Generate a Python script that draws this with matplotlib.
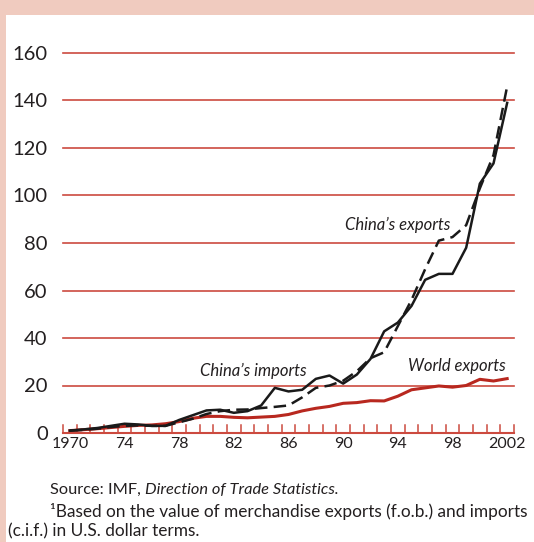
import matplotlib.pyplot as plt
import numpy as np

plt.rcParams['font.family'] = ['Lato', 'DejaVu Sans']

# data
years = list(range(1970, 2003))
china_exports = [1.0, 1.3, 1.8, 2.5, 3.0, 3.2, 3.0, 3.0, 4.5, 6.0,
                 8.0, 9.2, 9.8, 9.9, 10.5, 11.0, 11.6, 15.0, 19.0, 20.0,
                 22.0, 26.0, 31.5, 34.0, 45.0, 56.0, 69.0, 81.0, 82.5, 87.5,
                 103.0, 117.0, 146.0]
china_imports = [1.0, 1.5, 2.1, 3.0, 3.9, 3.6, 3.0, 3.0, 5.5, 7.5,
                 9.5, 9.8, 8.5, 9.2, 11.6, 19.0, 17.5, 18.2, 22.8, 24.2,
                 20.8, 24.6, 31.2, 42.8, 46.5, 53.5, 64.5, 67.0, 67.0, 78.0,
                 105.0, 113.5, 139.0]
world_exports = [1.0, 1.4, 1.8, 2.3, 2.8, 3.2, 3.4, 3.9, 4.8, 6.2,
                 7.0, 7.0, 6.6, 6.4, 6.7, 7.0, 7.8, 9.3, 10.4, 11.2,
                 12.5, 12.8, 13.6, 13.5, 15.5, 18.2, 19.0, 19.8, 19.3, 20.0,
                 22.6, 21.9, 22.9]
y_ticks = [0, 20, 40, 60, 80, 100, 120, 140, 160]
x_ticks = [1970, 1974, 1978, 1982, 1986, 1990, 1994, 1998, 2002]
x_labels = ['1970', '74', '78', '82', '86', '90', '94', '98', '2002']

grid_red = '#cc4a3f'
pink = '#f0cbbf'
ink = '#231f20'

fig = plt.figure(figsize=(5.34, 5.42), dpi=100)
fig.patch.set_facecolor('white')

# pink frame: top band and left strip
fig.add_artist(plt.Rectangle((0, 1 - 15 / 542), 1, 15 / 542, transform=fig.transFigure,
                             color=pink, lw=0))
fig.add_artist(plt.Rectangle((0, 0), 6 / 534, 1, transform=fig.transFigure,
                             color=pink, lw=0))

ax = fig.add_axes([63 / 534, 109 / 542, 451 / 534, 380 / 542])
ax.set_xlim(1969.5, 2002.5)
ax.set_ylim(0, 160)
for s in ax.spines.values():
    s.set_visible(False)

for v in y_ticks[1:]:
    ax.axhline(v, color=grid_red, lw=1.2, zorder=1, clip_on=False)
ax.axhline(0, color=grid_red, lw=1.5, zorder=1, clip_on=False)
# small upward tick marks on the baseline, between years
for t in np.arange(1969.5, 2003.0, 1.0):
    ax.plot([t, t], [0, 3.4], color=grid_red, lw=1.1, zorder=1, clip_on=False)

ax.plot(years, world_exports, color='#b8281f', lw=2.2, zorder=3,
        solid_joinstyle='round')
ax.plot(years, china_imports, color='#1a1a1a', lw=1.8, zorder=4)
ax.plot(years, china_exports, color='#1a1a1a', lw=1.8, zorder=4,
        dashes=(5, 2.5), clip_on=False)

ax.set_yticks(y_ticks)
ax.set_yticklabels([str(v) for v in y_ticks], fontsize=14.5, color=ink)
ax.tick_params(axis='y', length=0, pad=11)
ax.set_xticks(x_ticks)
ax.set_xticklabels(x_labels, fontsize=11.5, color=ink)
ax.tick_params(axis='x', length=0, pad=3)

ax.text(1994.0, 87.5, 'China’s exports', style='italic', fontsize=12,
        ha='center', va='center', color=ink)
ax.text(1983.4, 26.0, 'China’s imports', style='italic', fontsize=12,
        ha='center', va='center', color=ink)
ax.text(1998.3, 28.2, 'World exports', style='italic', fontsize=12,
        ha='center', va='center', color=ink)

# source notes
t1 = fig.text(50 / 534, 1 - 490 / 542, 'Source: IMF, ', fontsize=11.8,
              va='center', color=ink)
ax.annotate('Direction of Trade Statistics.', xy=(1, 0), xycoords=t1,
            va='bottom', ha='left', style='italic', fontsize=11.8, color=ink)
fig.text(50 / 534, 1 - 511 / 542,
         '¹Based on the value of merchandise exports (f.o.b.) and imports',
         fontsize=12.4, va='center', color=ink)
fig.text(8 / 534, 1 - 531 / 542, '(c.i.f.) in U.S. dollar terms.',
         fontsize=12.4, va='center', color=ink)

fig.savefig('out.png', dpi=100)
